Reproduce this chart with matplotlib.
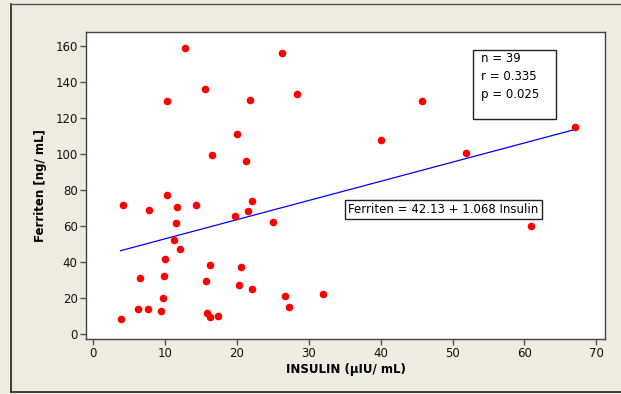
import matplotlib
matplotlib.use('Agg')
import matplotlib.pyplot as plt
from matplotlib.patches import Rectangle
import numpy as np

# values
insulin = [3.8, 4.1, 6.2, 6.5, 7.6, 7.7, 9.4, 9.7, 9.85, 10.0, 10.3, 10.3,
           11.2, 11.5, 11.7, 12.1, 12.8, 14.3, 15.6, 15.7, 15.9, 16.2, 16.2,
           16.5, 17.3, 19.7, 20.0, 20.3, 20.6, 21.25, 21.6, 21.8, 22.1, 22.1,
           25.0, 26.2, 26.7, 27.2, 28.3, 32.0, 40.0, 45.8, 51.9, 60.9, 67.0]
ferriten = [8.0, 71.7, 13.7, 31.1, 13.7, 68.9, 12.6, 19.8, 32.2, 41.3, 129.3, 77.4,
            52.0, 61.5, 70.6, 47.4, 159.1, 71.7, 136.5, 29.4, 11.5, 38.0, 9.1,
            99.3, 9.8, 65.4, 111.1, 27.2, 37.2, 95.9, 68.3, 130.4, 25.0, 73.9,
            62.0, 156.3, 20.9, 14.8, 133.7, 22.0, 107.8, 129.8, 100.4, 59.8, 115.2]

intercept = 42.13
slope = 1.068
stats_lines = ['n = 39', 'r = 0.335', 'p = 0.025']
eq_text = 'Ferriten = 42.13 + 1.068 Insulin'

bg = '#eeebe0'
fig = plt.figure(figsize=(6.21, 3.94), dpi=100, facecolor=bg)

# outer frame (left, top, bottom lines)
fig.add_artist(plt.Line2D([0.017, 0.017], [0.004, 0.989], color='#222222', lw=1.2))
fig.add_artist(plt.Line2D([0.017, 1.0], [0.989, 0.989], color='#555555', lw=1.0))
fig.add_artist(plt.Line2D([0.017, 1.0], [0.004, 0.004], color='#222222', lw=1.2))

ax = fig.add_axes([86 / 621, 1 - 339 / 394, (605 - 86) / 621, (339 - 32) / 394])
ax.set_facecolor('white')

ax.scatter(insulin, ferriten, s=30, color='#ff0000', zorder=3, linewidths=0)

xs = np.array([min(insulin), max(insulin)])
ax.plot(xs, intercept + slope * xs, color='#0000ff', lw=0.9, zorder=2)

ax.set_xlim(-1, 71.2)
ax.set_ylim(-3, 168)
ax.set_xticks(range(0, 71, 10))
ax.set_yticks(range(0, 161, 20))

for sp in ax.spines.values():
    sp.set_color('#444444')
    sp.set_linewidth(1.0)
ax.tick_params(direction='out', length=4, width=1, color='#555555',
               labelsize=8.5, labelcolor='#111111', pad=2)

ax.set_xlabel('INSULIN (µIU/ mL)', fontsize=8.5, fontweight='bold', labelpad=2)
ax.set_ylabel('Ferriten [ng/ mL]', fontsize=8.5, fontweight='bold', labelpad=6)

# stats box
ax.add_patch(Rectangle((52.85, 119.8), 11.55, 38.3, facecolor='white',
                       edgecolor='#222222', lw=1.0, zorder=4))
for i, s in enumerate(stats_lines):
    ax.text(54.0, 153.5 - i * 10.2, s, fontsize=8.5, va='center', ha='left', zorder=5)

# equation box
ax.text(35.5, 69.0, eq_text, fontsize=8.5, va='center', ha='left', zorder=5,
        bbox=dict(boxstyle='square,pad=0.25', facecolor='white', edgecolor='#222222', lw=1.0))

fig.savefig('out.png', dpi=100, facecolor=bg)
